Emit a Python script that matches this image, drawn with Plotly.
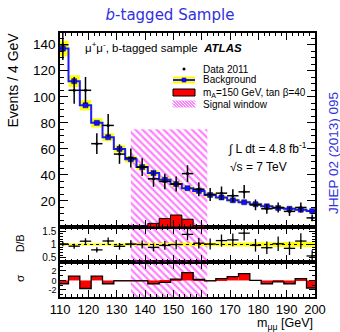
import numpy as np
import plotly.graph_objects as go

# ---------------- data ----------------
bin_centers = list(range(111, 200, 4))          # 4 GeV bins, 109..201
data_counts = [140, 105, 105, 64, 78, 56, 53, 46, 37, 35, 33, 41, 29, 25, 26, 24, 27, 17, 14, 15, 12, 15, 7]
background = [137, 112, 93.5, 80, 69, 60, 52, 46, 41.5, 36.3, 33, 29.8, 27.7, 24.6, 22.7, 20.5, 19, 17.5, 15.9, 14.6, 14, 13.3, 12.2]
background_err = [6, 4.5, 4, 3.5, 3, 2.8, 2.5, 2.3, 2.1, 2, 1.9, 1.8, 1.7, 1.6, 1.5, 1.5, 1.4, 1.4, 1.3, 1.3, 1.3, 1.2, 1.2]
signal = [0, 0, 0, 0, 0, 0, 0, 0, 2.8, 6.5, 9.2, 6.0, 1.0, 0, 0, 0, 0, 0, 0, 0, 0, 0, 0]
sigma = [-0.7, 0.9, -1.7, 0.9, -0.7, -0.1, -0.1, -0.1, -0.7, -0.4, 0.3, 1.65, 0.2, -0.1, 0.4, 0.8, 1.45, 0.0, -0.7, -0.3, -0.7, 0.4, -1.6]
signal_window = [135, 162]
signal_window_top = 75
x_ticks = [110, 120, 130, 140, 150, 160, 170, 180, 190, 200]
main_ticks = [20, 40, 60, 80, 100, 120, 140]
ratio_ticks = [0.5, 1, 1.5]
sigma_ticks = [-2, 0, 2]

# ---------------- derived ----------------
c = np.array(bin_centers, float)
d = np.array(data_counts, float)
b = np.array(background, float)
be = np.array(background_err, float)
bw = 4.0
edges = np.append(c - bw / 2, c[-1] + bw / 2)
ratio = d / b
ratio_err = np.sqrt(d) / b
band_rel = be / b
win_mid = 0.5 * (signal_window[0] + signal_window[1])
win_w = signal_window[1] - signal_window[0]

W, H = 340, 332
ML, MR, MT, MB = 60, 25, 33, 35
PW, PH = W - ML - MR, H - MT - MB


def px(xp):
    return (xp - ML) / PW


def py(yp):
    return (H - MB - yp) / PH


dom_sig = [0, py(262)]
dom_rat = [py(262), py(227)]
dom_main = [py(227), 1]
rng_main = [0, 149]
rng_rat = [0.35, 1.65]
rng_sig = [-3.5, 3.9]

FONT = "Liberation Sans, Arial, sans-serif"
BLUE_TXT = "#3030e0"
MAG = "#ff00ff"
YEL = "#ffff00"

fig = go.Figure()

hatch = dict(shape="\\", fgcolor=MAG, bgcolor="rgba(0,0,0,0)", size=5, solidity=0.45)


def window_bar(xa, ya, rng):
    fig.add_trace(go.Bar(x=[win_mid], y=[rng[1] - rng[0]] if ya != "y3" else [signal_window_top],
                         base=rng[0] if ya != "y3" else 0, width=[win_w],
                         marker=dict(color="rgba(0,0,0,0)", line=dict(width=0), pattern=hatch),
                         xaxis=xa, yaxis=ya, hoverinfo="skip"))


# ---- main panel ----
window_bar("x3", "y3", rng_main)
fig.add_trace(go.Bar(x=c, y=2 * be, base=b - be, width=bw,
                     marker=dict(color=YEL, line=dict(width=0)), xaxis="x3", yaxis="y3"))
fig.add_trace(go.Bar(x=c, y=signal, width=bw,
                     marker=dict(color="#ff0000", line=dict(color="black", width=1)),
                     xaxis="x3", yaxis="y3"))
fig.add_trace(go.Scatter(x=edges, y=np.append(b, b[-1]), mode="lines", line_shape="hv",
                         line=dict(color="#1a1aff", width=2), xaxis="x3", yaxis="y3"))
fig.add_trace(go.Scatter(x=c, y=b, mode="markers",
                         marker=dict(symbol="square", size=5, color="#1010ff",
                                     line=dict(color="#000080", width=0.5)),
                         xaxis="x3", yaxis="y3"))
fig.add_trace(go.Scatter(x=c, y=d, mode="markers",
                         marker=dict(color="black", size=3),
                         error_y=dict(type="data", array=np.sqrt(d), thickness=1.5, width=0, color="black"),
                         error_x=dict(type="constant", value=bw / 2, thickness=1.5, width=0, color="black"),
                         xaxis="x3", yaxis="y3"))

# ---- ratio panel ----
window_bar("x2", "y2", rng_rat)
fig.add_trace(go.Bar(x=c, y=2 * band_rel, base=1 - band_rel, width=bw,
                     marker=dict(color=YEL, line=dict(width=0)), xaxis="x2", yaxis="y2"))
fig.add_trace(go.Scatter(x=c, y=ratio, mode="markers",
                         marker=dict(color="black", size=2),
                         error_y=dict(type="data", array=ratio_err, thickness=1.3, width=0, color="black"),
                         error_x=dict(type="constant", value=bw / 2, thickness=1.3, width=0, color="black"),
                         xaxis="x2", yaxis="y2"))

# ---- sigma panel ----
window_bar("x", "y", rng_sig)
fig.add_trace(go.Bar(x=c, y=sigma, width=bw,
                     marker=dict(color="#ff0000", line=dict(width=0)), xaxis="x", yaxis="y"))
fig.add_trace(go.Scatter(x=edges, y=np.append(sigma, sigma[-1]), mode="lines", line_shape="hv",
                         line=dict(color="black", width=1.3), xaxis="x", yaxis="y"))

# ---------------- axes ----------------
def xax(anchor, labels):
    return dict(range=[110, 200], domain=[0, 1], anchor=anchor, showline=True, linecolor="black",
                linewidth=1.5, mirror="allticks", ticks="inside", ticklen=7, tickwidth=1,
                tickcolor="black", tickvals=x_ticks, showticklabels=labels,
                tickfont=dict(size=13, family=FONT, color="black"),
                minor=dict(ticks="inside", ticklen=3.5, dtick=2, tick0=110, tickcolor="black"),
                showgrid=False, zeroline=False)


def yax(anchor, dom, rng, tv, minor_dt, fs, tl):
    return dict(range=rng, domain=dom, anchor=anchor, showline=True, linecolor="black",
                linewidth=1.5, mirror="allticks", ticks="inside", ticklen=tl, tickwidth=1,
                tickcolor="black", tickvals=tv, ticktext=[str(v) for v in tv],
                tickfont=dict(size=fs, family=FONT, color="black"),
                minor=dict(ticks="inside", ticklen=tl / 2, dtick=minor_dt, tickcolor="black"),
                showgrid=False, zeroline=False)


fig.update_layout(
    width=W, height=H, margin=dict(l=ML, r=MR, t=MT, b=MB),
    paper_bgcolor="white", plot_bgcolor="white", showlegend=False, barmode="overlay",
    font=dict(family=FONT, color="black"),
    xaxis=xax("y", True), xaxis2=dict(xax("y2", False), matches="x"),
    xaxis3=dict(xax("y3", False), matches="x"),
    yaxis=yax("x", dom_sig, rng_sig, sigma_ticks, 1, 9, 6),
    yaxis2=yax("x2", dom_rat, rng_rat, ratio_ticks, 0.1, 10, 6),
    yaxis3=yax("x3", dom_main, rng_main, main_ticks, 5, 13.5, 8),
    title=dict(text="<i>b</i><span style='font-style:normal'>-tagged Sample</span>", x=0.5,
               xanchor="center", y=1 - 15 / H, yanchor="middle",
               font=dict(size=15, color=BLUE_TXT, family="DejaVu Sans, sans-serif")),
)

shapes = [dict(type="line", xref="x2 domain", yref="y2", x0=0, x1=1, y0=1, y1=1,
               line=dict(color="black", width=1, dash="dot"))]

ann = []


def text(xp, yp, s, size, xanchor="left", yanchor="middle", angle=0, color="black", family=FONT):
    ann.append(dict(x=px(xp), y=py(yp), xref="paper", yref="paper", text=s, showarrow=False,
                    xanchor=xanchor, yanchor=yanchor, textangle=angle,
                    font=dict(size=size, color=color, family=family)))


text(83, 47, "μ<sup>+</sup>μ<sup>-</sup>, b-tagged sample  <b><i>ATLAS</i></b>", 11.5)
text(226, 148, "∫ L dt = 4.8 fb<sup>-1</sup>", 12)
text(228, 167, "√s = 7 TeV", 12)
text(12, 31, "Events / 4 GeV", 14, xanchor="center", yanchor="top", angle=-90)
text(20, 243, "D/B", 10.5, xanchor="center", angle=-90)
text(20, 279, "σ", 11.5, xanchor="center", angle=-90)
text(315, 324, "m<sub>μμ</sub> [GeV]", 12.5, xanchor="right")
text(333, 153, "JHEP 02 (2013) 095", 13.5, xanchor="center", angle=-90, color=BLUE_TXT)

# ---- manual legend ----
leg_x0, leg_x1 = 173, 195
leg_tx = 201
leg_rows = [69, 80, 92.5, 104]
leg_labels = ["Data 2011", "Background", "m<sub>A</sub>=150 GeV, tan β=40", "Signal window"]
for yy, lab in zip(leg_rows, leg_labels):
    text(leg_tx, yy, lab, 10)
# data dot
shapes.append(dict(type="circle", xref="paper", yref="paper", x0=px(182.5), x1=px(185.5),
                   y0=py(70.5), y1=py(67.5), fillcolor="black", line=dict(width=0)))
# background
shapes.append(dict(type="rect", xref="paper", yref="paper", x0=px(leg_x0), x1=px(leg_x1),
                   y0=py(83.5), y1=py(76.5), fillcolor=YEL, line=dict(width=0)))
shapes.append(dict(type="line", xref="paper", yref="paper", x0=px(leg_x0), x1=px(leg_x1),
                   y0=py(80), y1=py(80), line=dict(color="#1a1aff", width=2)))
shapes.append(dict(type="rect", xref="paper", yref="paper", x0=px(182), x1=px(186),
                   y0=py(82), y1=py(78), fillcolor="#1010ff", line=dict(color="#000080", width=0.5)))
# signal
shapes.append(dict(type="rect", xref="paper", yref="paper", x0=px(leg_x0), x1=px(leg_x1),
                   y0=py(96), y1=py(89), fillcolor="#ff0000", line=dict(color="black", width=1)))
# signal window hatch
for k in range(-2, 9):
    xa = leg_x0 + 3 * k
    x0s, y0s = xa, 100.5
    x1s, y1s = xa + 7, 107.5
    if x0s < leg_x0:
        y0s += leg_x0 - x0s
        x0s = leg_x0
    if x1s > leg_x1:
        y1s -= x1s - leg_x1
        x1s = leg_x1
    if x1s > x0s:
        shapes.append(dict(type="line", xref="paper", yref="paper", x0=px(x0s), x1=px(x1s),
                           y0=py(y0s), y1=py(y1s), line=dict(color=MAG, width=1)))

fig.update_layout(shapes=shapes, annotations=ann)
fig.write_html("out.html")
